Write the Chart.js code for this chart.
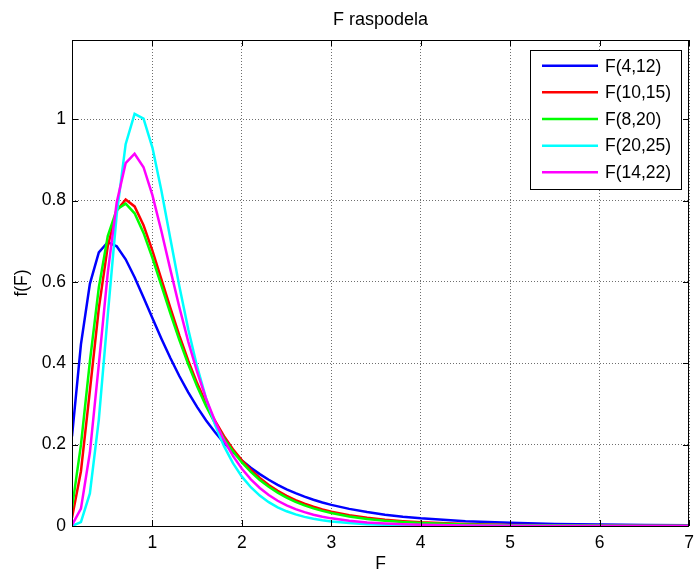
<!DOCTYPE html>
<html>
<head>
<meta charset="utf-8">
<script src="https://cdn.jsdelivr.net/npm/chart.js@4.4.1/dist/chart.umd.min.js"></script>
<style>
html, body { margin: 0; padding: 0; background: #fff; }
</style>
</head>
<body>
<canvas id="c" width="696" height="573"></canvas>
<script>
// sample points on the F axis
const xs = [0.1,0.2,0.3,0.4,0.5,0.6,0.7,0.8,0.9,1.0,
            1.1,1.2,1.3,1.4,1.5,1.6,1.7,1.8,1.9,2.0,
            2.1,2.2,2.3,2.4,2.5,2.6,2.7,2.8,2.9,3.0,
            3.2,3.4,3.6,3.8,4.0,
            4.5,5.0,5.5,6.0,6.5,7.0]

const blue = [0.2204,0.4466,0.5954,0.6729,0.6978,0.6877,0.6558,0.6117,0.5619,0.5106,
              0.4605,0.4129,0.3688,0.3286,0.2923,0.2596,0.2305,0.2046,0.1817,0.1614,
              0.1434,0.1276,0.1136,0.1012,0.0903,0.0807,0.0722,0.0646,0.0579,0.0520,
              0.0421,0.0342,0.0279,0.0229,0.0189,
              0.0119,0.0077,0.0051,0.0034,0.0024,0.0017]
const red = [0.0200,0.1343,0.3328,0.5350,0.6880,0.7752,0.8029,0.7858,0.7394,0.6766,
             0.6067,0.5361,0.4687,0.4065,0.3507,0.3013,0.2582,0.2209,0.1888,0.1614,
             0.1379,0.1180,0.1010,0.0865,0.0742,0.0638,0.0549,0.0473,0.0408,0.0353,
             0.0265,0.0201,0.0153,0.0118,0.0091,
             0.0049,0.0027,0.0016,0.0010,0.0006,0.0004]
const green = [0.0440,0.1994,0.4045,0.5866,0.7128,0.7783,0.7924,0.7689,0.7207,0.6589,
               0.5912,0.5230,0.4577,0.3974,0.3429,0.2945,0.2521,0.2153,0.1835,0.1563,
               0.1330,0.1132,0.0963,0.0820,0.0698,0.0595,0.0508,0.0434,0.0371,0.0318,
               0.0234,0.0173,0.0129,0.0096,0.0073,
               0.0037,0.0019,0.0010,0.0006,0.0003,0.0002]
const cyan = [0.0001,0.0094,0.0802,0.2616,0.5186,0.7664,0.9388,1.0135,1.0018,0.9298,
              0.8241,0.7061,0.5899,0.4837,0.3911,0.3130,0.2486,0.1964,0.1546,0.1214,
              0.0953,0.0747,0.0586,0.0460,0.0362,0.0285,0.0225,0.0177,0.0141,0.0112,
              0.0071,0.0046,0.0030,0.0019,0.0013,
              0.0005,0.0002,0.0001,0.0000,0.0000,0.0000]
const magenta = [0.0019,0.0426,0.1806,0.3976,0.6225,0.7956,0.8921,0.9153,0.8822,0.8129,
                 0.7247,0.6304,0.5384,0.4535,0.3781,0.3128,0.2574,0.2110,0.1724,0.1407,
                 0.1147,0.0934,0.0762,0.0621,0.0507,0.0415,0.0340,0.0278,0.0229,0.0188,
                 0.0128,0.0088,0.0061,0.0043,0.0030,
                 0.0013,0.0006,0.0003,0.0001,0.0001,0.0000]

const seriesNames = ['F(4,12)','F(10,15)','F(8,20)','F(20,25)','F(14,22)']
const seriesColors = ['#0000ff','#ff0000','#00ff00','#00ffff','#ff00ff']
const xTicks = [1,2,3,4,5,6,7]
const yTicks = [0,0.2,0.4,0.6,0.8,1]

const FONT = "'Liberation Sans', Arial, sans-serif"
const FSIZE = 17.5

function pts(ys) {
    return xs.map((x, i) => ({x: x, y: ys[i]}))
}

// matlab style box, inward ticks and legend
const matlabBox = {
    id: 'matlabBox',
    afterDraw(chart) {
        const ctx = chart.ctx, ca = chart.chartArea
        const sx = chart.scales.x, sy = chart.scales.y
        ctx.save()
        ctx.strokeStyle = '#000'
        ctx.lineWidth = 1
        ctx.strokeRect(ca.left + 0.5, ca.top + 0.5, ca.right - ca.left - 1, ca.bottom - ca.top)
        ctx.beginPath()
        xTicks.forEach(v => {
            const px = Math.round(sx.getPixelForValue(v)) + 0.5
            ctx.moveTo(px, ca.bottom); ctx.lineTo(px, ca.bottom - 6)
            ctx.moveTo(px, ca.top); ctx.lineTo(px, ca.top + 6)
        })
        yTicks.forEach(v => {
            const py = Math.round(sy.getPixelForValue(v)) + 0.5
            ctx.moveTo(ca.left, py); ctx.lineTo(ca.left + 6, py)
            ctx.moveTo(ca.right, py); ctx.lineTo(ca.right - 6, py)
        })
        ctx.stroke()

        // legend
        const w = 151, h = 139
        const bx = ca.right - 8 - w, by = ca.top + 10
        ctx.fillStyle = '#fff'
        ctx.fillRect(bx, by, w, h)
        ctx.strokeStyle = '#000'
        ctx.strokeRect(bx + 0.5, by + 0.5, w, h)
        ctx.font = FSIZE + 'px ' + FONT
        ctx.textBaseline = 'middle'
        ctx.textAlign = 'left'
        seriesNames.forEach((name, i) => {
            const y = by + 15.7 + i * 26.65
            ctx.strokeStyle = seriesColors[i]
            ctx.lineWidth = 2.5
            ctx.beginPath()
            ctx.moveTo(bx + 12, y); ctx.lineTo(bx + 68, y)
            ctx.stroke()
            ctx.fillStyle = '#000'
            ctx.fillText(name, bx + 75, y + 1)
        })
        ctx.restore()
    }
}

const allSeries = [blue, red, green, cyan, magenta]

new Chart(document.getElementById('c'), {
    type: 'line',
    data: {
        datasets: allSeries.map((ys, i) => ({
            label: seriesNames[i],
            data: pts(ys),
            borderColor: seriesColors[i],
            borderWidth: 2.5,
            pointRadius: 0,
            tension: 0,
            fill: false,
            order: allSeries.length - i
        }))
    },
    options: {
        responsive: false,
        animation: false,
        layout: {padding: {left: 0, right: 7, top: 0, bottom: 0}},
        plugins: {
            legend: {display: false},
            tooltip: {enabled: false},
            title: {
                display: true,
                fullSize: false,
                text: 'F raspodela',
                color: '#000',
                font: {family: FONT, size: 18, weight: 'normal'},
                padding: {top: 9.3, bottom: 9.1}
            }
        },
        scales: {
            x: {
                type: 'linear',
                min: 0.1,
                max: 7,
                afterBuildTicks: s => { s.ticks = xTicks.map(v => ({value: v})) },
                afterFit: s => { s.height = 47; s.paddingLeft = 0; s.paddingRight = 0 },
                grid: {color: '#6e6e6e', lineWidth: 1, drawTicks: false},
                border: {display: false, dash: [1, 2]},
                ticks: {
                    color: '#000',
                    font: {family: FONT, size: FSIZE},
                    padding: 7,
                    maxRotation: 0,
                    autoSkip: false,
                    callback: v => String(v)
                },
                title: {
                    display: true,
                    text: 'F',
                    color: '#000',
                    font: {family: FONT, size: FSIZE, lineHeight: 1},
                    padding: 0
                }
            },
            y: {
                type: 'linear',
                min: 0,
                max: 1.195,
                afterBuildTicks: s => { s.ticks = yTicks.map(v => ({value: v})) },
                afterFit: s => { s.width = 72; s.paddingTop = 0; s.paddingBottom = 0 },
                grid: {color: '#6e6e6e', lineWidth: 1, drawTicks: false},
                border: {display: false, dash: [1, 2]},
                ticks: {
                    color: '#000',
                    font: {family: FONT, size: FSIZE},
                    padding: 6,
                    callback: v => String(v)
                },
                title: {
                    display: true,
                    text: 'f(F)',
                    color: '#000',
                    font: {family: FONT, size: FSIZE, lineHeight: 1},
                    padding: {top: 13.5, bottom: 0}
                }
            }
        }
    },
    plugins: [matlabBox]
})
</script>
</body>
</html>
